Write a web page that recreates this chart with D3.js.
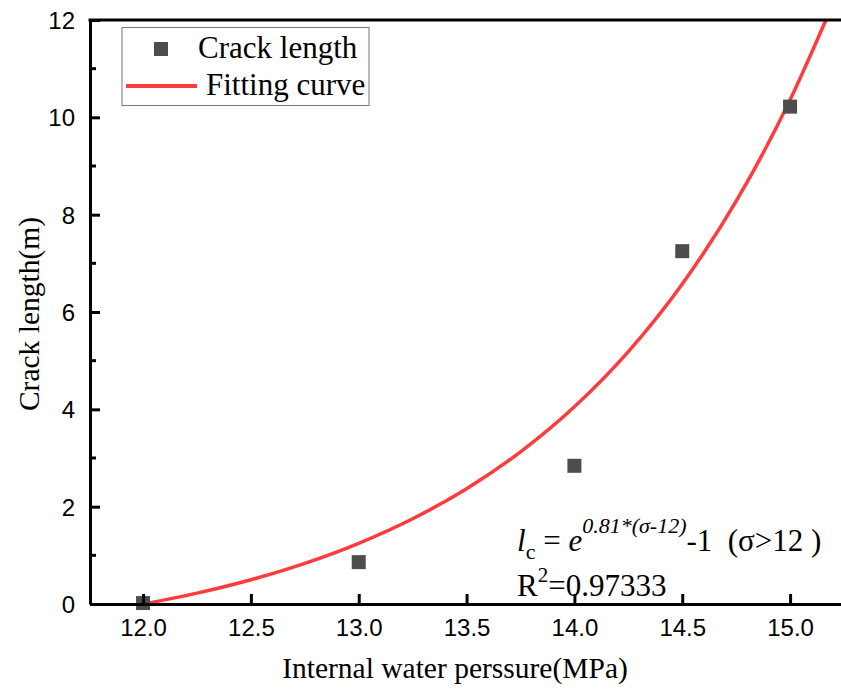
<!DOCTYPE html>
<html><head><meta charset="utf-8">
<script src="https://cdn.jsdelivr.net/npm/d3@7"></script>
<style>body{margin:0;background:#fff}svg{display:block}
.serif{font-family:"Liberation Serif","Times New Roman",Times,serif}
.sans{font-family:"Liberation Sans",Arial,Helvetica,sans-serif}
</style>
</head><body>
<script>
const pressure = [12.0, 13.0, 14.0, 14.5, 15.0];
const crackLength = [0.02, 0.86, 2.84, 7.25, 10.22];
const fitX = [12.0,12.25,12.5,12.75,13.0,13.25,13.5,13.75,14.0,14.25,14.5,14.75,15.0,15.17];
const fitY = [0,0.224,0.499,0.836,1.248,1.752,2.370,3.127,4.053,5.187,6.576,8.277,10.359,12.04];
const xTicks = [12.0,12.5,13.0,13.5,14.0,14.5,15.0];
const yTicks = [0,2,4,6,8,10,12];
const yMinor = [1,3,5,7,9,11];

const W=841,H=693;
const svg=d3.select("body").append("svg").attr("width",W).attr("height",H);
const L=90,T=20,R=844,B=604;
const x=d3.scaleLinear().domain([11.754,15.25]).range([L,R]);
const y=d3.scaleLinear().domain([0,12]).range([B,T]);

svg.append("clipPath").attr("id","c").append("rect").attr("x",L).attr("y",T).attr("width",R-L).attr("height",B-T);

const line=d3.line().x((d,i)=>x(fitX[i])).y(d=>y(d)).curve(d3.curveMonotoneX);
svg.append("path").datum(fitY).attr("d",line).attr("fill","none").attr("stroke","#ff3b3b").attr("stroke-width",3.5).attr("clip-path","url(#c)");

svg.selectAll("rect.pt").data(pressure).enter().append("rect").attr("class","pt")
 .attr("x",(d)=>x(d)-7).attr("y",(d,i)=>y(crackLength[i])-7).attr("width",14).attr("height",14).attr("fill","#4d4d4d");

const axStyle=g=>{g.attr("font-family",null).attr("font-size",null);g.select(".domain").attr("stroke","#000").attr("stroke-width",3);g.selectAll(".tick line").attr("stroke","#000").attr("stroke-width",3);g.selectAll("text").attr("class","sans").attr("font-size",24).style("font-size","24px").attr("fill","#000");};
const xAxis=svg.append("g").attr("transform",`translate(0,${B})`)
 .call(d3.axisBottom(x).tickValues(xTicks).tickFormat(d3.format(".1f")).tickSizeInner(-10).tickSizeOuter(0).tickPadding(15));
axStyle(xAxis);
const yAxis=svg.append("g").attr("transform",`translate(${L},0)`)
 .call(d3.axisLeft(y).tickValues(yTicks).tickFormat(d3.format("d")).tickSizeInner(-10).tickSizeOuter(0).tickPadding(15));
axStyle(yAxis);
yAxis.selectAll("text").attr("dy","0.36em");
svg.append("g").selectAll("line").data(yMinor).enter().append("line")
 .attr("x1",L).attr("x2",L+6).attr("y1",d=>y(d)).attr("y2",d=>y(d)).attr("stroke","#000").attr("stroke-width",3);
svg.append("line").attr("x1",L-1.5).attr("x2",W).attr("y1",T).attr("y2",T).attr("stroke","#000").attr("stroke-width",3);

const st=(sel,size)=>sel.attr("class","serif").attr("font-size",size).style("font-size",size+"px");
st(svg.append("text").attr("x",455).attr("y",678).attr("text-anchor","middle"),29.5).text("Internal water perssure(MPa)");
st(svg.append("text").attr("transform","translate(39,314) rotate(-90)").attr("text-anchor","middle"),29.5).text("Crack length(m)");

svg.append("rect").attr("x",122).attr("y",27.5).attr("width",247).attr("height",78).attr("fill","#fff").attr("stroke","#777").attr("stroke-width",1);
svg.append("rect").attr("x",154).attr("y",42).attr("width",14).attr("height",14).attr("fill","#4d4d4d");
st(svg.append("text").attr("x",198).attr("y",58),31).text("Crack length");
svg.append("line").attr("x1",126).attr("x2",197).attr("y1",86).attr("y2",86).attr("stroke","#ff3b3b").attr("stroke-width",4);
st(svg.append("text").attr("x",206).attr("y",95),31).text("Fitting curve");

const a1=st(svg.append("text").attr("x",517).attr("y",551),31);
a1.append("tspan").style("font-style","italic").text("l");
a1.append("tspan").style("font-size","22px").attr("dy",8).text("c");
a1.append("tspan").attr("dy",-8).text(" = ");
a1.append("tspan").style("font-style","italic").text("e");
a1.append("tspan").style("font-style","italic").style("font-size","22px").attr("dy",-18).text("0.81*(σ-12)");
a1.append("tspan").attr("dy",18).text("-1\u00a0\u00a0(σ>12 )");
const a2=st(svg.append("text").attr("x",517).attr("y",596),31);
a2.append("tspan").text("R");
a2.append("tspan").style("font-size","21px").attr("dy",-14).text("2");
a2.append("tspan").attr("dy",14).text("=0.97333");
</script>
</body></html>
